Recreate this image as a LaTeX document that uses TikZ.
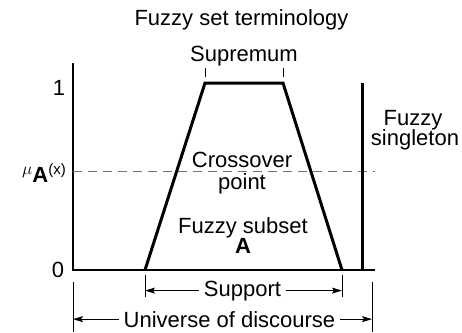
\documentclass[tikz,border=0pt]{standalone}
\usepackage{fontspec}
\setmainfont{Liberation Sans}
\usetikzlibrary{arrows.meta}
\begin{document}
\begin{tikzpicture}[x=1pt,y=-1pt,
  lbl/.style={font=\fontsize{22}{24}\selectfont, inner sep=0pt, anchor=base},
  dimlbl/.style={lbl, inner xsep=5pt},
  axisline/.style={line width=1.2pt},
  memb/.style={line width=3pt, line join=miter},
  tickline/.style={line width=0.8pt},
  dashline/.style={line width=1pt, black!55, dash pattern=on 9pt off 6pt},
  dimarrow/.style={line width=0.9pt, -{Stealth[length=10pt,width=6pt,inset=2pt]}},
]
\useasboundingbox (0,0) rectangle (462,332);

% axes
\coordinate (O) at (73,270);
\coordinate (Ytop) at (73,63);
\coordinate (Xend) at (375,270);
\draw[axisline] (Ytop) -- (O) -- (Xend);

% crossover dashed line
\coordinate (d0) at (73,171);
\coordinate (d1) at (375,171);
\draw[dashline] (d0) -- (d1);

% trapezoid
\coordinate (b1) at (145,270);
\coordinate (t1) at (205,83);
\coordinate (t2) at (283,83);
\coordinate (b2) at (342,270);
\draw[memb] (b1) -- (t1) -- (t2) -- (b2);

% singleton
\coordinate (s0) at (362,270);
\coordinate (s1) at (362,83);
\draw[memb] (s0) -- (s1);

% supremum ticks
\coordinate (sq1a) at (205,68); \coordinate (sq1b) at (205,77);
\coordinate (sq2a) at (283,68); \coordinate (sq2b) at (283,77);
\draw[tickline] (sq1a) -- (sq1b);
\draw[tickline] (sq2a) -- (sq2b);

% texts
\node[lbl] (title) at (241.5,25) {Fuzzy set terminology};
\node[lbl] (sup) at (244,61) {Supremum};
\node[lbl] (one) at (59,95) {1};
\node[lbl] (zero) at (58,277) {0};
\node[lbl, anchor=base east] (mu) at (66,182) {\raisebox{8pt}{\fontsize{17}{17}\selectfont$\mu$}\textbf{A}\raisebox{8pt}{\fontsize{15}{15}\selectfont(x)}};
\node[lbl] (cross) at (242,167) {Crossover};
\node[lbl] (point) at (242,189) {point};
\node[lbl] (fsub) at (243,233) {Fuzzy subset};
\node[lbl] (fA) at (243,253) {\textbf{A}};
\node[lbl] (fz) at (413,125) {Fuzzy};
\node[lbl] (sing) at (415,145) {singleton};

% support
\coordinate (spL0) at (145,275); \coordinate (spL1) at (145,297);
\coordinate (spR0) at (342,275); \coordinate (spR1) at (342,297);
\draw[tickline] (spL0) -- (spL1);
\draw[tickline] (spR0) -- (spR1);
\node[dimlbl] (supp) at (242.5,296) {Support};
\draw[dimarrow] (supp.west) -- (supp.west -| spL0);
\draw[dimarrow] (supp.east) -- (supp.east -| spR0);

% universe
\coordinate (uL0) at (73,282); \coordinate (uL1) at (73,332);
\coordinate (uR0) at (372,282); \coordinate (uR1) at (372,332);
\draw[tickline] (uL0) -- (uL1);
\draw[tickline] (uR0) -- (uR1);
\node[dimlbl] (univ) at (229.5,327) {Universe of discourse};
\draw[dimarrow] (univ.west) -- (univ.west -| uL0);
\draw[dimarrow] (univ.east) -- (univ.east -| uR0);
\end{tikzpicture}
\end{document}
